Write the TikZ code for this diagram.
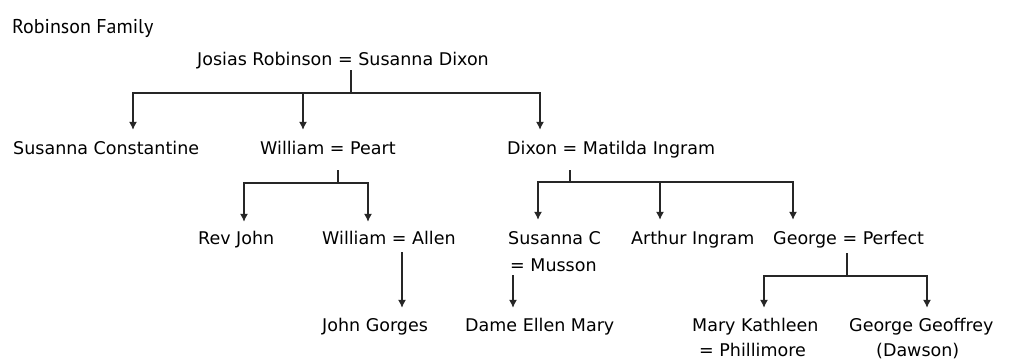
\documentclass[tikz,border=0pt]{standalone}
\usepackage{fontspec}
\usetikzlibrary{arrows.meta}
\setmainfont{DejaVu Sans}
\newfontfamily\titlefont{PT Sans}
\begin{document}
\begin{tikzpicture}[x=1pt,y=-1pt]
	\tikzstyle{person}=[anchor=base west, inner sep=0pt, text height=13pt, text depth=4pt, font=\fontsize{17.5}{20}\selectfont]
	\tikzstyle{link}=[line width=1.2pt, draw=black!85]
	\tikzstyle{child}=[link, -{Latex[length=8pt,width=8pt]}]
	\useasboundingbox (0,0) rectangle (1034,361);
	% Title
	\node[anchor=base west, inner sep=0pt, font=\titlefont\fontsize{20}{22}\selectfont] (title) at (12,34) {Robinson Family};
	% Generation 1
	\node[person] (josias) at (197,66) {Josias Robinson = Susanna Dixon};
	% Generation 2
	\node[person] (susannaCon) at (13,154) {Susanna Constantine};
	\node[person] (williamP) at (260,154) {William = Peart};
	\node[person] (dixonM) at (507,154) {Dixon = Matilda Ingram};
	% Generation 3
	\node[person] (revJohn) at (198,244) {Rev John};
	\node[person] (williamA) at (322,244) {William = Allen};
	\node[person] (susannaC) at (508,244) {Susanna C};
	\node[person] (musson) at (510,271) {= Musson};
	\node[person] (arthur) at (631,244) {Arthur Ingram};
	\node[person] (georgeP) at (773,244) {George = Perfect};
	% Generation 4
	\node[person] (johnG) at (322,331) {John Gorges};
	\node[person] (dame) at (465,331) {Dame Ellen Mary};
	\node[person] (maryK) at (692,331) {Mary Kathleen};
	\node[person] (phillimore) at (699,356) {= Phillimore};
	\node[person] (georgeG) at (849,331) {George Geoffrey};
	\node[person] (dawson) at (876,356) {(Dawson)};
	%---------------------%
	% junctions
	\coordinate (j1) at (351,93);
	\coordinate (j2) at (338,183);
	\coordinate (j3) at (570,182);
	\coordinate (j4) at (847,276);
	% Josias -> children
	\draw[link] (josias.south -| j1) -- (j1);
	\foreach \c/\dx in {susannaCon/120, williamP/43, dixonM/33}
		\draw[child, shorten >=11pt] (j1) -| ([xshift=\dx pt]\c.north west);
	% William = Peart -> children
	\draw[link, shorten <=12pt] (williamP.south -| j2) -- (j2);
	\foreach \c/\dx in {revJohn/46, williamA/46}
		\draw[child, shorten >=9pt] (j2) -| ([xshift=\dx pt]\c.north west);
	% Dixon = Matilda -> children
	\draw[link, shorten <=12pt] (dixonM.south -| j3) -- (j3);
	\foreach \c/\dx in {susannaC/30, arthur/29, georgeP/20}
		\draw[child, shorten >=11pt] (j3) -| ([xshift=\dx pt]\c.north west);
	% single lines
	\draw[child, shorten <=4pt, shorten >=10pt] ([xshift=80pt]williamA.south west) -- ([xshift=80pt]johnG.north west);
	\draw[child, shorten >=10pt] ([xshift=3pt]musson.south west) -- ([xshift=48pt]dame.north west);
	% George = Perfect -> children
	\draw[link, shorten <=5pt] (georgeP.south -| j4) -- (j4);
	\foreach \c/\dx in {maryK/72, georgeG/78}
		\draw[child, shorten >=10pt] (j4) -| ([xshift=\dx pt]\c.north west);
	%---------------------%
\end{tikzpicture}
\end{document}
